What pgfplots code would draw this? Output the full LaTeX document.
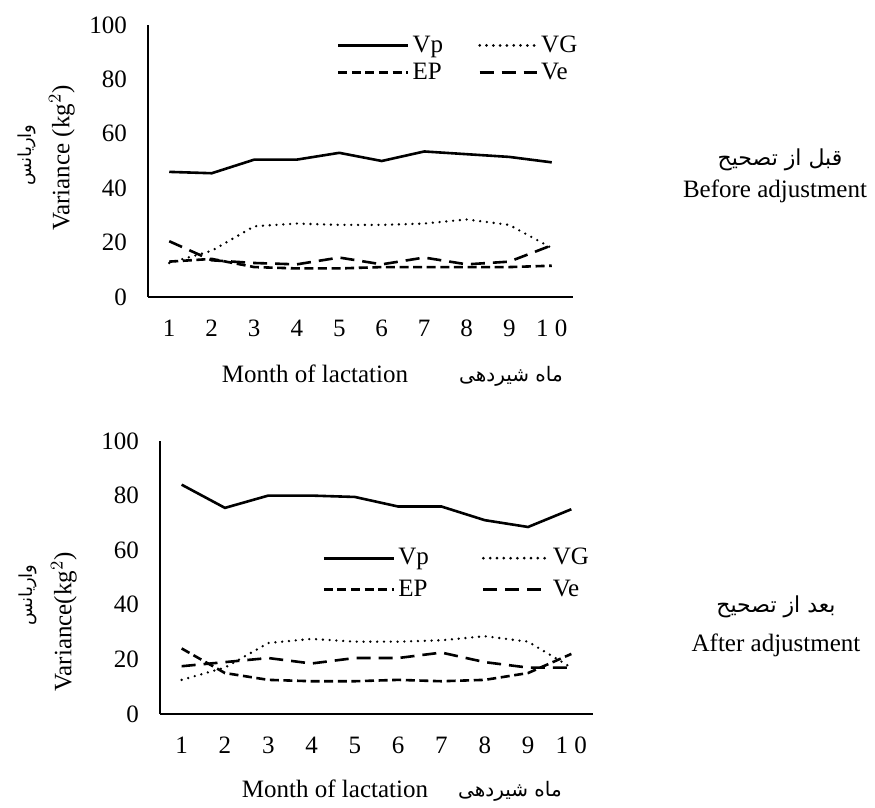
\documentclass[border=0pt]{standalone}
\usepackage{fontspec}
\setmainfont{Liberation Serif}
\newfontfamily\arabicfont[Script=Arabic]{DejaVu Sans}
\TeXXeTstate=1
\usepackage{pgfplots}
\pgfplotsset{compat=1.18}

\pgfplotsset{
  lact/.style={
    scale only axis, anchor=south west, clip=false,
    xmin=0.5, xmax=10.5, ymin=0, ymax=100,
    xtick={1,...,10}, xticklabels={1,2,3,4,5,6,7,8,9,1 0},
    ytick={0,20,...,100},
    axis x line=bottom, axis y line=left,
    x axis line style={-, line width=0.9pt},
    y axis line style={-, line width=0.6pt},
    major tick length=0pt,
    tick label style={font=\fontsize{12.5}{14}\selectfont},
    /pgf/number format/assume math mode=true,
    yticklabel style={xshift=-7pt},
    xticklabel style={yshift=-8pt},
    legend columns=2,
    legend cell align=left,
    legend style={draw=none, fill=none, inner sep=0pt, row sep=1pt,
      font=\fontsize{12.5}{14}\selectfont, nodes={inner sep=1.5pt}},
  },
  leglen/.style={legend image code/.code={\draw[##1, line width=1.5pt] (0pt,0pt) -- (#1,0pt);}},
  vp/.style={black, line width=1.3pt},
  vg/.style={black, line width=1.3pt, line cap=round, dash pattern=on 0pt off 3.4pt},
  ep/.style={black, line width=1.3pt, dash pattern=on 4.5pt off 2.3pt},
  ve/.style={black, line width=1.3pt, dash pattern=on 7pt off 4pt},
}

\begin{document}
\begin{tikzpicture}
\path (0,0) rectangle (437.5pt,-402.5pt);

% before adjustment
\begin{axis}[lact, at={(74pt,-148.5pt)}, width=212.5pt, height=136pt,
  legend style={at={(0.443,0.9732)}, anchor=north west,
    /tikz/every even column/.append style={column sep=16pt}}]
\addplot[vp, leglen=35pt] coordinates {
 (1,46) (2,45.5) (3,50.5) (4,50.5) (5,53) (6,50) (7,53.5) (8,52.5) (9,51.5) (10,49.5)};
\addplot[vg, leglen=28.5pt] coordinates {
 (1,12.5) (2,17) (3,26) (4,27) (5,26.5) (6,26.5) (7,27) (8,28.5) (9,26.5) (10,18)};
\addplot[ep, leglen=35pt] coordinates {
 (1,13) (2,14) (3,11) (4,10.5) (5,10.5) (6,11) (7,11) (8,11) (9,11) (10,11.5)};
\addplot[ve, leglen=28.5pt] coordinates {
 (1,20.5) (2,13.5) (3,12.5) (4,12) (5,14.5) (6,12) (7,14.5) (8,12) (9,13) (10,19)};
\legend{Vp, VG, EP, Ve}
\end{axis}

% after adjustment
\begin{axis}[lact, at={(80pt,-357pt)}, width=216.5pt, height=136.5pt,
  legend style={at={(0.374,0.619)}, anchor=north west, row sep=3pt,
    /tikz/every even column/.append style={column sep=25pt}}]
\addplot[vp, leglen=35pt] coordinates {
 (1,84) (2,75.5) (3,80) (4,80) (5,79.5) (6,76) (7,76) (8,71) (9,68.5) (10,75)};
\addplot[vg, leglen=32.5pt] coordinates {
 (1,12.5) (2,17) (3,26) (4,27.5) (5,26.5) (6,26.5) (7,27) (8,28.5) (9,26.5) (10,17)};
\addplot[ep, leglen=35pt] coordinates {
 (1,24) (2,15) (3,12.5) (4,12) (5,12) (6,12.5) (7,12) (8,12.5) (9,15) (10,22)};
\addplot[ve, leglen=32.5pt] coordinates {
 (1,17.5) (2,19) (3,20.5) (4,18.5) (5,20.5) (6,20.5) (7,22.5) (8,19) (9,17) (10,17)};
\legend{Vp, VG, EP, Ve}
\end{axis}

\begin{scope}[x=0.5pt, y=-0.5pt, font=\fontsize{12.5}{14}\selectfont]
% y labels
\node[rotate=90] at (62,158) {Variance (kg$^2$)};
\node[rotate=90, font=\arabicfont\fontsize{9}{10}\selectfont] at (27,155) {\beginR واریانس\endR};
\node[rotate=90] at (64,622) {Variance(kg$^2$)};
\node[rotate=90, font=\arabicfont\fontsize{9}{10}\selectfont] at (28,595) {\beginR واریانس\endR};
% x labels
\node[anchor=base] at (315,383) {Month of lactation};
\node[font=\arabicfont\fontsize{10}{11}\selectfont] at (511,376) {\beginR ماه شیردهی\endR};
\node[anchor=base] at (335,798) {Month of lactation};
\node[font=\arabicfont\fontsize{10}{11}\selectfont] at (510,791) {\beginR ماه شیردهی\endR};
% panel titles
\node[font=\arabicfont\fontsize{11}{12}\selectfont] at (780,160) {\beginR قبل از تصحیح\endR};
\node[anchor=base] at (775,198) {Before adjustment};
\node[font=\arabicfont\fontsize{11}{12}\selectfont] at (776,607) {\beginR بعد از تصحیح\endR};
\node[anchor=base] at (776,652) {After adjustment};
\end{scope}
\end{tikzpicture}
\end{document}
